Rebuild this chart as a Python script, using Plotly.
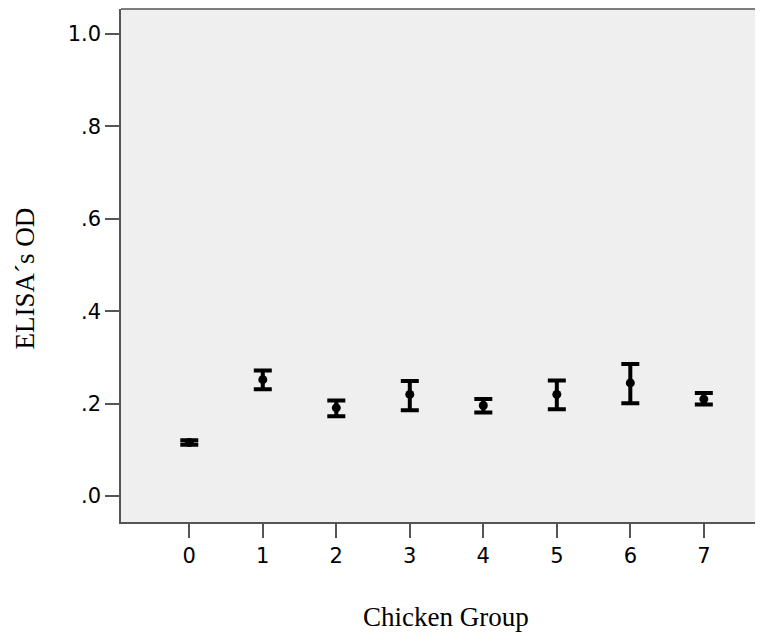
import plotly.graph_objects as go

groups = [0, 1, 2, 3, 4, 5, 6, 7]
means = [0.116, 0.252, 0.191, 0.220, 0.196, 0.220, 0.245, 0.210]
upper = [0.121, 0.272, 0.207, 0.249, 0.210, 0.250, 0.286, 0.223]
lower = [0.111, 0.231, 0.173, 0.186, 0.181, 0.188, 0.201, 0.198]

y_tickvals = [0.0, 0.2, 0.4, 0.6, 0.8, 1.0]
y_ticktext = [".0", ".2", ".4", ".6", ".8", "1.0"]
x_ticktext = ["0", "1", "2", "3", "4", "5", "6", "7"]

err_plus = [u - m for u, m in zip(upper, means)]
err_minus = [m - l for m, l in zip(means, lower)]

axis_color = "#555555"

fig = go.Figure()
fig.add_trace(go.Scatter(
    x=groups, y=means, mode="markers",
    marker=dict(color="black", size=9),
    error_y=dict(type="data", symmetric=False, array=err_plus, arrayminus=err_minus,
                 color="black", thickness=4, width=9),
    showlegend=False,
))

fig.update_layout(
    width=755, height=625,
    margin=dict(l=113, r=0, t=1, b=111),
    paper_bgcolor="white",
    plot_bgcolor="#efefef",
    font=dict(family="DejaVu Sans", size=21, color="black"),
    xaxis=dict(range=[-0.929, 7.805], tickvals=groups, ticktext=x_ticktext,
               showgrid=False, zeroline=False, showline=True, linecolor=axis_color,
               linewidth=1.5, ticks="outside", ticklen=14, tickwidth=1.5, tickcolor=axis_color),
    yaxis=dict(range=[-0.056, 1.054], tickvals=y_tickvals, ticktext=y_ticktext,
               showgrid=False, zeroline=False, showline=True, linecolor=axis_color,
               linewidth=1.5, ticks="outside", ticklen=14, tickwidth=1.5, tickcolor=axis_color),
    shapes=[dict(type="line", xref="paper", yref="paper", x0=0, x1=1, y0=1, y1=1,
                 line=dict(color=axis_color, width=1.5))],
    annotations=[
        dict(text="Chicken Group", xref="paper", yref="paper", x=0.5, y=0,
             xanchor="center", yanchor="middle", xshift=4, yshift=-95, showarrow=False,
             font=dict(family="Liberation Serif", size=27, color="black")),
        dict(text="ELISA´s OD", xref="paper", yref="paper", x=0, y=0.5, textangle=-90,
             xanchor="center", yanchor="middle", xshift=-97, yshift=-13, showarrow=False,
             font=dict(family="Liberation Serif", size=27, color="black")),
    ],
)

fig.write_html("out.html")
